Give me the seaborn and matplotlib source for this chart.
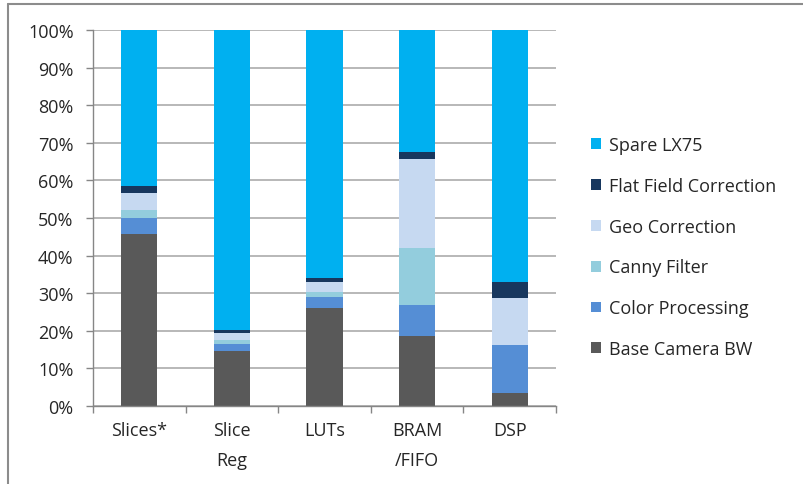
import numpy as np
import matplotlib.pyplot as plt
import seaborn as sns
from matplotlib.lines import Line2D
from matplotlib.ticker import PercentFormatter, FixedLocator

# -----------------------
# Data (percent of resource used, per category)
# -----------------------
categories = ["Slices*", "Slice\nReg", "LUTs", "BRAM\n/FIFO", "DSP"]

base_camera_bw = [45.7, 14.5, 26.1, 18.7, 3.5]
color_processing = [4.2, 1.9, 2.9, 8.1, 12.6]
canny_filter = [2.3, 1.2, 1.4, 15.1, 0.0]
geo_correction = [4.4, 1.7, 2.7, 23.8, 12.5]
flat_field = [1.9, 0.9, 0.9, 1.8, 4.5]
spare_lx75 = [100 - (a + b + c + d + e) for a, b, c, d, e in
              zip(base_camera_bw, color_processing, canny_filter, geo_correction, flat_field)]

series = [
    ("Base Camera BW", base_camera_bw, "#595959"),
    ("Color Processing", color_processing, "#558ED5"),
    ("Canny Filter", canny_filter, "#93CDDD"),
    ("Geo Correction", geo_correction, "#C6D9F1"),
    ("Flat Field Correction", flat_field, "#17375E"),
    ("Spare LX75", spare_lx75, "#00B0F0"),
]

# -----------------------
# Plot
# -----------------------
sns.set_style("white")
plt.rcParams['font.family'] = ['Open Sans', 'DejaVu Sans']
text_color = "#262626"
fs = 13

fig = plt.figure(figsize=(8.04, 4.85), dpi=100)
ax = fig.add_axes([93 / 804, 1 - 407 / 485, (556 - 93) / 804, (407 - 31) / 485])

bottom = np.zeros(len(categories))
for name, vals, col in series:
    sns.barplot(x=categories, y=vals, bottom=bottom, color=col, saturation=1,
                width=0.39, label=name, ax=ax, linewidth=0)
    bottom += np.array(vals)

ax.set_ylim(0, 100)
ax.set_xlim(-0.5, len(categories) - 0.5)
ax.set_yticks(np.arange(0, 101, 10))
ax.yaxis.set_major_formatter(PercentFormatter(decimals=0))
ax.yaxis.grid(True, color="#ababab", linewidth=1.2)
ax.set_axisbelow(True)

ax.xaxis.set_minor_locator(FixedLocator(np.arange(-0.5, len(categories), 1.0)))
ax.tick_params(axis="x", which="major", length=0, pad=11, labelsize=fs, colors=text_color)
ax.tick_params(axis="x", which="minor", length=5, width=1, color="#868686", bottom=True)
ax.tick_params(axis="y", length=5, width=1, color="#868686", left=True, pad=9,
               labelsize=fs, labelcolor=text_color)
for lbl in ax.get_xticklabels():
    lbl.set_linespacing(1.85)

for side in ["top", "right"]:
    ax.spines[side].set_visible(False)
for side in ["left", "bottom"]:
    ax.spines[side].set_color("#868686")
    ax.spines[side].set_linewidth(1)
ax.set_xlabel("")
ax.set_ylabel("")

handles, labels = ax.get_legend_handles_labels()
ax.get_legend().remove()
leg = fig.legend(handles[::-1], labels[::-1], loc="center left",
                 bbox_to_anchor=(591 / 804, 1 - 248 / 485), frameon=False, borderpad=0,
                 borderaxespad=0, fontsize=fs, labelspacing=1.27, handlelength=0.55,
                 handleheight=0.55, handletextpad=0.45, labelcolor=text_color)

# chart border (left and top edges visible in the original)
fig.add_artist(Line2D([8 / 804, 8 / 804], [0, 1 - 5 / 485], color="#8c8c8c", linewidth=1.5))
fig.add_artist(Line2D([8 / 804, 1], [1 - 5 / 485, 1 - 5 / 485], color="#8c8c8c", linewidth=1.5))

fig.savefig("out.png", dpi=100)
